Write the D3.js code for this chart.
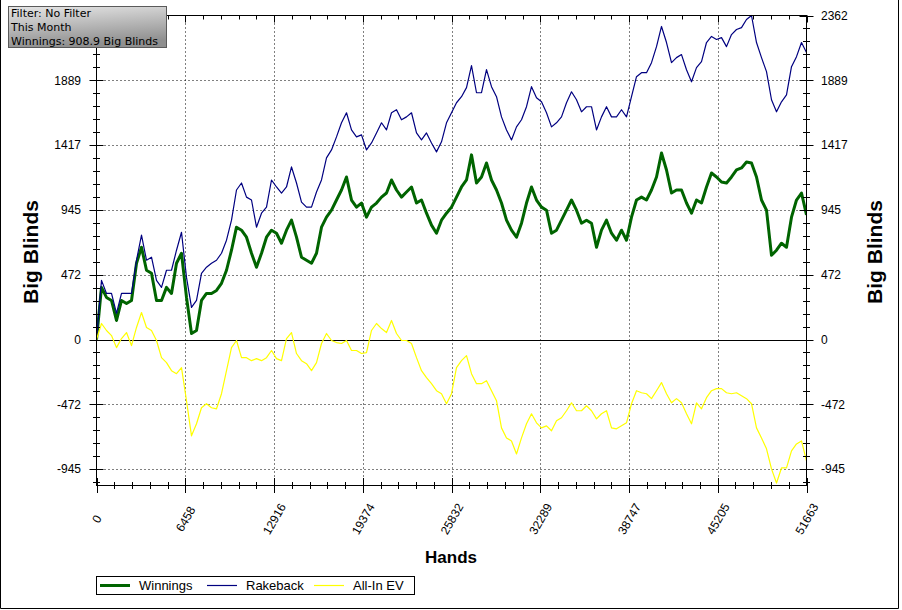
<!DOCTYPE html>
<html><head><meta charset="utf-8">
<script src="https://cdn.jsdelivr.net/npm/d3@7/dist/d3.min.js"></script>
<style>
body{margin:0;background:#fff;}
svg{display:block;}
text{font-family:"Liberation Sans",Arial,sans-serif;fill:#000;}
</style>
</head><body>
<svg id="c" width="902" height="610"></svg>
<script>
// ---- data ----
const totalHands = 51663;
const xTickValues = [0, 6458, 12916, 19374, 25832, 32289, 38747, 45205, 51663];
const xTickLabels = ["0", "6458", "12916", "19374", "25832", "32289", "38747", "45205", "51663"];
const yTickValues = [-944.8, -472.4, 0, 472.4, 944.8, 1417.2, 1889.6, 2362];
const yTickLabels = ["-945", "-472", "0", "472", "945", "1417", "1889", "2362"];
const yMin = -1064, yMax = 2362;
const seriesNames = ["Winnings", "Rakeback", "All-In EV"];
const infoLines = ["Filter: No Filter", "This Month", "Winnings: 908.9 Big Blinds"];

// values sampled at evenly spaced hand counts from 0 to 51663
const winnings = [
  0,380,307,285,139,285,263,285,556,673,
  505,483,285,285,380,336,556,629,307,44,
  66,285,336,336,358,410,505,651,819,797,
  746,629,527,629,746,797,775,702,797,870,
  746,600,578,556,629,819,892,943,1017,1090,
  1185,1017,965,995,892,965,995,1038,1068,1163,
  1090,1038,1075,1112,995,1017,921,834,775,870,
  921,965,1038,1112,1163,1346,1141,1185,1287,1163,
  1090,995,870,797,746,848,995,1112,1017,965,
  943,775,797,870,943,1017,943,848,870,848,
  673,797,870,775,724,797,724,892,1017,1038,
  1017,1090,1185,1360,1236,1068,1090,1090,995,921,
  1017,995,1112,1214,1185,1148,1141,1185,1236,1251,
  1294,1287,1185,1017,943,614,651,702,673,892,
  1017,1068,909
];
const rakeback = [
  0,431,336,336,190,336,336,336,578,761,
  578,600,431,380,505,505,651,782,453,234,
  285,483,527,556,578,629,724,870,1090,1141,
  1038,1017,819,921,965,1163,1112,1068,1112,1258,
  1141,1002,965,965,1075,1163,1324,1382,1477,1580,
  1653,1528,1477,1492,1382,1433,1506,1580,1528,1653,
  1675,1602,1623,1653,1506,1455,1506,1433,1368,1441,
  1580,1653,1726,1770,1836,1996,1799,1799,1967,1843,
  1770,1623,1528,1455,1550,1602,1697,1843,1762,1733,
  1653,1550,1580,1623,1726,1806,1748,1660,1697,1697,
  1528,1623,1697,1623,1623,1675,1623,1770,1916,1945,
  1945,2018,2135,2282,2165,2018,2055,2077,1967,1879,
  1982,2026,2165,2209,2187,2201,2135,2223,2260,2274,
  2333,2362,2165,2055,1953,1748,1660,1733,1784,1989,
  2062,2165,2092
];
const allInEV = [
  0,117,66,29,-59,7,51,-44,88,197,
  88,66,-7,-132,-168,-227,-249,-205,-446,-702,
  -614,-497,-468,-497,-505,-395,-227,-59,-7,-132,
  -132,-154,-139,-154,-132,-80,-139,-154,7,51,
  -102,-154,-176,-227,-168,-29,44,-7,-22,-29,
  -7,-80,-80,-102,-95,66,117,80,51,139,
  44,-7,-7,-29,-132,-227,-278,-322,-373,-395,
  -468,-395,-205,-154,-117,-249,-322,-322,-300,-373,
  -446,-644,-717,-739,-834,-717,-614,-541,-607,-644,
  -629,-665,-592,-570,-519,-461,-519,-519,-483,-519,
  -578,-541,-519,-644,-651,-629,-607,-468,-373,-388,
  -395,-431,-373,-314,-395,-461,-431,-461,-541,-614,
  -461,-505,-424,-373,-358,-358,-388,-395,-388,-410,
  -431,-468,-644,-717,-797,-943,-1046,-936,-936,-812,
  -761,-739,-885
];
const seriesColors = ["#006400", "#000080", "#ffff00"];

// ---- layout ----
const svg = d3.select("#c");
const L = 96.5, R = 806.5, T = 15.5, B = 485.5;
const x = d3.scaleLinear().domain([0, totalHands]).range([L, R]);
const y = d3.scaleLinear().domain([yMin, yMax]).range([B, T]);

// outer frame
svg.append("path").attr("d", "M0.5,0 V608.5 H898.5 V0")
  .attr("fill", "none").attr("stroke", "#000");

// grid
const gGrid = svg.append("g").attr("stroke", "#000").attr("stroke-dasharray", "1,3");
xTickValues.slice(1, -1).forEach(v => {
  gGrid.append("line").attr("x1", Math.round(x(v)) + 0.5).attr("x2", Math.round(x(v)) + 0.5)
    .attr("y1", T).attr("y2", B);
});
yTickValues.forEach(v => {
  if (v === 0 || v === yMax) return;
  gGrid.append("line").attr("x1", L).attr("x2", R)
    .attr("y1", Math.round(y(v)) + 0.5).attr("y2", Math.round(y(v)) + 0.5);
});

// zero line
svg.append("line").attr("x1", L).attr("x2", R)
  .attr("y1", Math.round(y(0)) + 0.5).attr("y2", Math.round(y(0)) + 0.5)
  .attr("stroke", "#000");

// series lines
const toPoints = arr => arr.map((v, i) => [i * totalHands / (arr.length - 1), v]);
const line = d3.line().x(d => x(d[0])).y(d => y(d[1]));
svg.append("clipPath").attr("id", "clip").append("rect")
  .attr("x", L).attr("y", T - 1).attr("width", R - L).attr("height", B - T + 1);
const gLines = svg.append("g").attr("clip-path", "url(#clip)");
[[winnings, 3], [rakeback, 1.2], [allInEV, 1.2]].forEach(([arr, w], k) => {
  gLines.append("path").datum(toPoints(arr)).attr("d", line)
    .attr("fill", "none").attr("stroke", seriesColors[k]).attr("stroke-width", w)
    .attr("stroke-linejoin", "round");
});

// plot frame (top, left axis, right axis, bottom axis)
svg.append("rect").attr("x", L).attr("y", T).attr("width", R - L).attr("height", B - T)
  .attr("fill", "none").attr("stroke", "#000");

// ticks
const gT = svg.append("g").attr("stroke", "#000");
const xStep = totalHands / 8;
for (let k = 0; k <= 40; k++) {
  const v = k * xStep / 5;
  const px = Math.round(x(v)) + 0.5;
  const major = k % 5 === 0;
  gT.append("line").attr("x1", px).attr("x2", px)
    .attr("y1", B - (major ? 7.5 : 3.5)).attr("y2", B + (major ? 7.5 : 3.5));
  gT.append("line").attr("x1", px).attr("x2", px)
    .attr("y1", T).attr("y2", T + (major ? 7 : 4));
}
const yStep = yMax / 5;
for (let k = -11; k <= 25; k++) {
  const v = k * yStep / 5;
  if (v < yMin) continue;
  const py = Math.round(y(v)) + 0.5;
  const major = k % 5 === 0;
  const s = major ? 7 : 3.5;
  gT.append("line").attr("x1", L - s).attr("x2", L + s).attr("y1", py).attr("y2", py);
  gT.append("line").attr("x1", R - s).attr("x2", R + s).attr("y1", py).attr("y2", py);
}

// axis labels via d3 axes (left top label is hidden under the info box in the original)
const axL = d3.axisLeft(y).tickValues(yTickValues.slice(0, -1)).tickFormat((d, i) => yTickLabels[i])
  .tickSize(0).tickPadding(15.5);
const gL = svg.append("g").attr("transform", `translate(${L},0)`).call(axL);
const axR = d3.axisRight(y).tickValues(yTickValues).tickFormat((d, i) => yTickLabels[i])
  .tickSize(0).tickPadding(14.5);
const gR = svg.append("g").attr("transform", `translate(${R},0)`).call(axR);
[gL, gR].forEach(g => {
  g.select(".domain").remove();
  g.selectAll("text").attr("font-size", 12).attr("font-family", "Liberation Sans, Arial, sans-serif")
    .attr("fill", "#000");
});

const axB = d3.axisBottom(x).tickValues(xTickValues).tickFormat((d, i) => xTickLabels[i]).tickSize(0);
const gB = svg.append("g").attr("transform", `translate(0,${B})`).call(axB);
gB.select(".domain").remove();
gB.selectAll("text")
  .attr("font-size", 12).attr("font-family", "Liberation Sans, Arial, sans-serif").attr("fill", "#000")
  .attr("y", 0).attr("dy", null)
  .attr("text-anchor", "middle").attr("dominant-baseline", "central")
  .attr("transform", "translate(0,33.5) rotate(-60)");

// axis titles
svg.append("text").attr("transform", "translate(30,252) rotate(-90)")
  .attr("text-anchor", "middle").attr("dominant-baseline", "central")
  .attr("font-size", 21).attr("font-weight", "bold").text("Big Blinds");
svg.append("text").attr("transform", "translate(874,252) rotate(-90)")
  .attr("text-anchor", "middle").attr("dominant-baseline", "central")
  .attr("font-size", 21).attr("font-weight", "bold").text("Big Blinds");
svg.append("text").attr("x", 451).attr("y", 557)
  .attr("text-anchor", "middle").attr("dominant-baseline", "central")
  .attr("font-size", 17).attr("font-weight", "bold").text("Hands");

// legend
const gLeg = svg.append("g");
gLeg.append("rect").attr("x", 96.5).attr("y", 576.5).attr("width", 318).attr("height", 18)
  .attr("fill", "#fff").attr("stroke", "#000");
seriesNames.forEach((n, k) => {
  const x0 = 100 + k * 107;
  gLeg.append("line").attr("x1", x0).attr("x2", x0 + 30).attr("y1", 585.5).attr("y2", 585.5)
    .attr("stroke", seriesColors[k]).attr("stroke-width", k === 0 ? 3 : 1.2);
  gLeg.append("text").attr("x", x0 + 39).attr("y", 585.5).attr("dominant-baseline", "central")
    .attr("font-size", 13).text(n);
});

// info box
const defs = svg.append("defs");
const grad = defs.append("linearGradient").attr("id", "ib")
  .attr("x1", 0).attr("y1", 0).attr("x2", 0.25).attr("y2", 1);
grad.append("stop").attr("offset", 0).attr("stop-color", "#e6e6e6");
grad.append("stop").attr("offset", 1).attr("stop-color", "#8f8f8f");
svg.append("rect").attr("x", 8.5).attr("y", 6.5).attr("width", 158).attr("height", 41)
  .attr("fill", "url(#ib)").attr("stroke", "#5a5a5a");
infoLines.forEach((t, i) => {
  svg.append("text").attr("x", 11).attr("y", 17 + i * 14)
    .attr("font-size", 11)
    .style("font-family", "DejaVu Sans, Verdana, sans-serif")
    .attr("fill", "#111").text(t);
});
</script>
</body></html>
